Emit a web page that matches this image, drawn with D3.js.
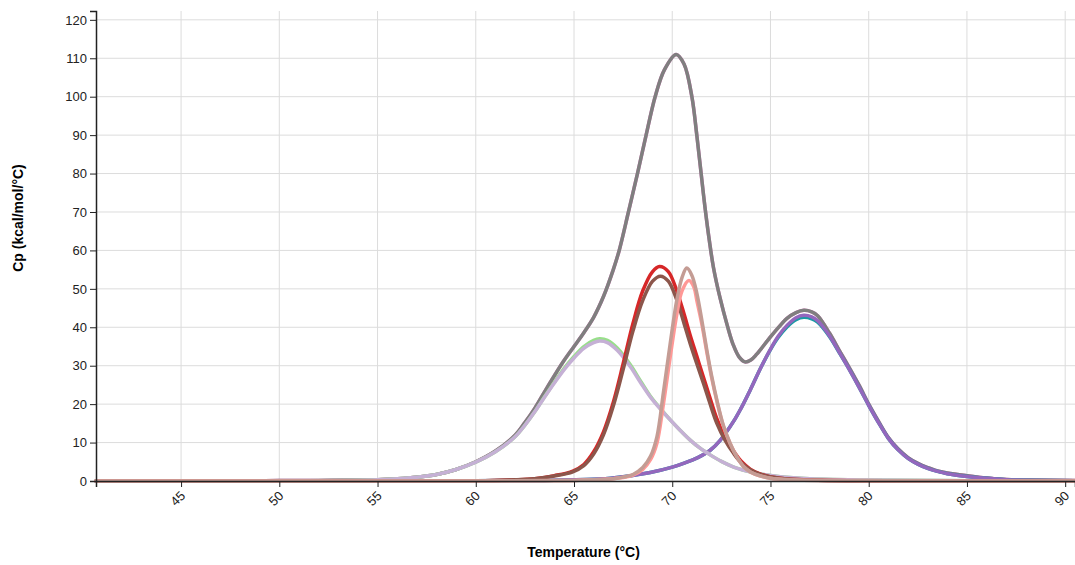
<!DOCTYPE html>
<html>
<head>
<meta charset="utf-8">
<script src="https://cdn.jsdelivr.net/npm/d3@7"></script>
<style>
 body { margin: 0; background: #fff; }
 .axis text { font-family: Arial, "Liberation Sans", sans-serif; font-size: 13px; fill: #222; }
 .axis path, .axis line { stroke: #222; }
 .grid line { stroke: #dcdcdc; stroke-width: 1; }
 .title { font-family: Arial, "Liberation Sans", sans-serif; font-size: 14px; font-weight: bold; fill: #000; }
 .curve { fill: none; stroke-width: 3.5; stroke-linejoin: round; stroke-linecap: round; }
</style>
</head>
<body>
<div id="chart"></div>
<script>
// tick values
const xTicks = [45, 50, 55, 60, 65, 70, 75, 80, 85, 90];
const yTicks = [0, 10, 20, 30, 40, 50, 60, 70, 80, 90, 100, 110, 120];

// [temperature, Cp]
const totalFit = [[48.2,0.05],[50,0.1],[52,0.15],[54,0.25],[55,0.35],[56,0.6],[57,1.0],[58,1.7],[59,3.0],[60,5.0],[61,7.8],[62,11.9],[62.5,15.2],[63,18.9],[63.5,23.2],[64,27.4],[64.5,31.4],[65,35],[65.5,38.6],[66,42.6],[66.5,48],[67,55],[67.3,60],[67.77,70],[68.23,80],[68.67,90],[69.13,100],[69.6,107],[70.2,111],[70.6,108.5],[71,100],[71.25,90],[71.46,80.5],[71.66,71.5],[71.89,62.5],[72.1,55.5],[72.44,47.5],[72.8,40.5],[73.1,35.5],[73.4,32.3],[73.7,31],[74,31.5],[74.3,33],[75,37.5],[75.5,40.5],[75.84,42.3],[76.3,43.8],[76.7,44.4],[77.1,44],[77.4,43],[78,38.5],[78.5,34],[78.9,30.5],[79.5,25],[80,20],[80.5,15.5],[81,11.3],[81.5,8.3],[82,6.1],[82.5,4.6],[83,3.5],[83.5,2.6],[84,2.1],[85,1.4],[86,0.8],[87,0.4],[88,0.25],[90.5,0.1]];
const totalData = totalFit;

const peak1Fit = [[40.67,0],[50,0.05],[55,0.3],[57,1.0],[58,1.7],[59,3.0],[60,4.9],[61,7.6],[62,11.5],[62.5,14.5],[63,18],[63.5,21.8],[64,25.5],[64.5,29],[65,32],[65.5,34.5],[66,36],[66.3,36.4],[66.7,36],[67.2,34],[67.86,29.8],[68.4,25.5],[68.88,21.9],[69.4,18.7],[69.9,15.9],[70.4,13.2],[70.9,10.7],[71.4,8.6],[71.93,6.8],[72.5,5.1],[73.1,3.7],[73.8,2.6],[74.5,1.8],[75.5,1.1],[77,0.6],[80,0.25],[85,0.08],[90.5,0]];
const peak1Data = [[40.67,0],[50,0.05],[55,0.3],[57,1.0],[58,1.7],[59,3.0],[60,4.9],[61,7.6],[62,11.5],[62.5,14.5],[63,18],[63.5,21.9],[64,25.7],[64.5,29.3],[65,32.4],[65.5,35],[66,36.6],[66.3,37],[66.7,36.6],[67.2,34.6],[67.86,30.3],[68.4,25.9],[68.88,22.1],[69.4,18.8],[69.9,15.9],[70.4,13.2],[70.9,10.7],[71.4,8.6],[71.93,6.8],[72.5,5.1],[73.1,3.7],[73.8,2.6],[74.5,1.8],[75.5,1.1],[77,0.6],[80,0.25],[85,0.08],[90.5,0]];

const peak2Fit = [[40.67,0],[60,0.05],[62,0.3],[63,0.6],[64,1.3],[64.94,2.4],[65.5,4.0],[66,7.0],[66.5,12],[67,19.5],[67.5,29],[68,39],[68.5,47],[69,52],[69.4,53.3],[69.8,52],[70.23,47.1],[70.6,41],[70.91,35.8],[71.25,30.5],[71.59,25.4],[71.9,20.5],[72.27,15],[72.7,10.5],[73.12,7.2],[73.5,4.8],[73.97,2.9],[74.5,1.7],[75.5,0.7],[77,0.25],[80,0.05],[90.5,0]];
const peak2Data = [[40.67,0],[60,0.05],[62,0.3],[63,0.6],[64,1.4],[64.94,2.6],[65.5,4.3],[66,7.6],[66.5,12.8],[67,20.5],[67.5,30.5],[68,41],[68.5,49.5],[69,54.5],[69.35,55.8],[69.8,54.5],[70.23,49.5],[70.6,43.5],[70.91,38],[71.25,32.5],[71.59,27],[71.9,22],[72.27,16.2],[72.7,11.3],[73.12,7.8],[73.5,5.2],[73.97,3.1],[74.5,1.8],[75.5,0.7],[77,0.25],[80,0.05],[90.5,0]];

const peak3Fit = [[40.67,0],[60,0.02],[65,0.15],[66,0.3],[67,0.6],[67.5,1.0],[68,1.7],[68.5,3.5],[68.9,6.5],[69.22,11.5],[69.55,23],[69.89,35.5],[70.23,47],[70.5,53],[70.74,55.4],[71,53.5],[71.25,48.9],[71.5,42],[71.76,34.1],[72,27.5],[72.27,21.1],[72.6,14.5],[72.95,9.8],[73.3,6.2],[73.63,3.7],[74,2.3],[74.5,1.3],[75,0.7],[76,0.3],[78,0.1],[90.5,0]];
const peak3Data = [[40.67,0],[60,0.02],[65,0.15],[66,0.3],[67,0.6],[67.5,0.9],[68,1.5],[68.5,3],[68.9,5.6],[69.22,9.8],[69.55,20],[69.89,32],[70.23,43.3],[70.5,49.5],[70.85,52.2],[71.1,50.5],[71.25,47],[71.5,41],[71.76,33.5],[72,27],[72.27,20.8],[72.6,14.3],[72.95,9.7],[73.3,6.2],[73.63,3.8],[74,2.3],[74.5,1.3],[75,0.7],[76,0.3],[78,0.1],[90.5,0]];

const peak4Fit = [[40.67,0],[60,0.05],[64,0.2],[66.33,0.5],[67.5,1.1],[68.88,2.2],[70,3.6],[70.57,4.6],[71.3,6.1],[71.93,8.0],[72.44,10.6],[73.12,15.5],[73.5,18.9],[74,24],[74.5,29.4],[75,34.3],[75.4,37.7],[75.84,40.5],[76.3,42.5],[76.7,43.1],[77.1,42.7],[77.4,41.7],[78,37.8],[78.5,33.5],[78.9,30],[79.5,24.5],[80,19.7],[80.5,15.2],[81,11.1],[81.5,8.1],[82,5.9],[82.5,4.4],[83,3.3],[83.5,2.5],[84,1.9],[85,1.2],[86,0.7],[87,0.35],[88,0.2],[90.5,0.05]];
const peak4Data = [[40.67,0],[60,0.05],[64,0.2],[66.33,0.5],[67.5,1.1],[68.88,2.2],[70,3.6],[70.57,4.6],[71.3,6.1],[71.93,8.0],[72.44,10.6],[73.12,15.5],[73.5,18.9],[74,24],[74.5,29.4],[75,34.2],[75.4,37.4],[75.84,40.1],[76.3,42],[76.7,42.6],[77.1,42.2],[77.4,41.3],[78,37.6],[78.5,33.4],[78.9,30],[79.5,24.5],[80,19.7],[80.5,15.2],[81,11.1],[81.5,8.1],[82,5.9],[82.5,4.4],[83,3.3],[83.5,2.5],[84,1.9],[85,1.2],[86,0.7],[87,0.35],[88,0.2],[90.5,0.05]];

const series = [
  { name: "total data", values: totalData, color: "#e377c2" },
  { name: "total fit", values: totalFit, color: "#7f7f7f" },
  { name: "peak 4 data", values: peak4Data, color: "#1a9aa5" },
  { name: "peak 4 fit", values: peak4Fit, color: "#9467bd" },
  { name: "peak 1 data", values: peak1Data, color: "#98df8a" },
  { name: "peak 1 fit", values: peak1Fit, color: "#c5b0d5" },
  { name: "peak 2 data", values: peak2Data, color: "#d62728" },
  { name: "peak 2 fit", values: peak2Fit, color: "#8c564b" },
  { name: "peak 3 data", values: peak3Data, color: "#ff9896" },
  { name: "peak 3 fit", values: peak3Fit, color: "#c49c94" }
];

const width = 1075, height = 565;
const margin = { top: 11, right: 0, bottom: 84, left: 96 };
const innerW = width - margin.left - margin.right;
const innerH = height - margin.top - margin.bottom;

const svg = d3.select("#chart").append("svg")
  .attr("width", width)
  .attr("height", height);

const g = svg.append("g").attr("transform", `translate(${margin.left},${margin.top})`);

const x = d3.scaleLinear().domain([40.67, 90.5]).range([0, innerW]);
const y = d3.scaleLinear().domain([0, 122.3]).range([innerH, 0]);

// grid lines
g.append("g").attr("class", "grid")
  .selectAll("line.h").data(yTicks).enter().append("line")
  .attr("x1", 0).attr("x2", innerW)
  .attr("y1", d => y(d)).attr("y2", d => y(d));
g.append("g").attr("class", "grid")
  .selectAll("line.v").data(xTicks).enter().append("line")
  .attr("x1", d => x(d)).attr("x2", d => x(d))
  .attr("y1", 0).attr("y2", innerH);

// curves
const line = d3.line()
  .x(d => x(d[0]))
  .y(d => y(Math.max(0, d[1])))
  .curve(d3.curveCatmullRom.alpha(0.5));

g.append("g").selectAll("path")
  .data(series).enter().append("path")
  .attr("class", "curve")
  .attr("stroke", d => d.color)
  .attr("d", d => line(d.values));

// axes
const xAxis = g.append("g").attr("class", "axis")
  .attr("transform", `translate(0,${innerH})`)
  .call(d3.axisBottom(x).tickValues(xTicks).tickFormat(d3.format("d")));
xAxis.selectAll("text")
  .style("text-anchor", "end")
  .attr("dx", "-0.6em")
  .attr("dy", "0.4em")
  .attr("transform", "rotate(-45)");

g.append("g").attr("class", "axis")
  .call(d3.axisLeft(y).tickValues(yTicks).tickFormat(d3.format("d")));

g.selectAll(".axis .domain").attr("stroke-width", 1.5);

// titles
svg.append("text").attr("class", "title")
  .attr("x", margin.left + innerW / 2 - 2)
  .attr("y", 557)
  .attr("text-anchor", "middle")
  .text("Temperature (°C)");

svg.append("text").attr("class", "title")
  .attr("transform", `translate(23,${margin.top + innerH / 2 - 28}) rotate(-90)`)
  .attr("text-anchor", "middle")
  .text("Cp (kcal/mol/°C)");
</script>
</body>
</html>
